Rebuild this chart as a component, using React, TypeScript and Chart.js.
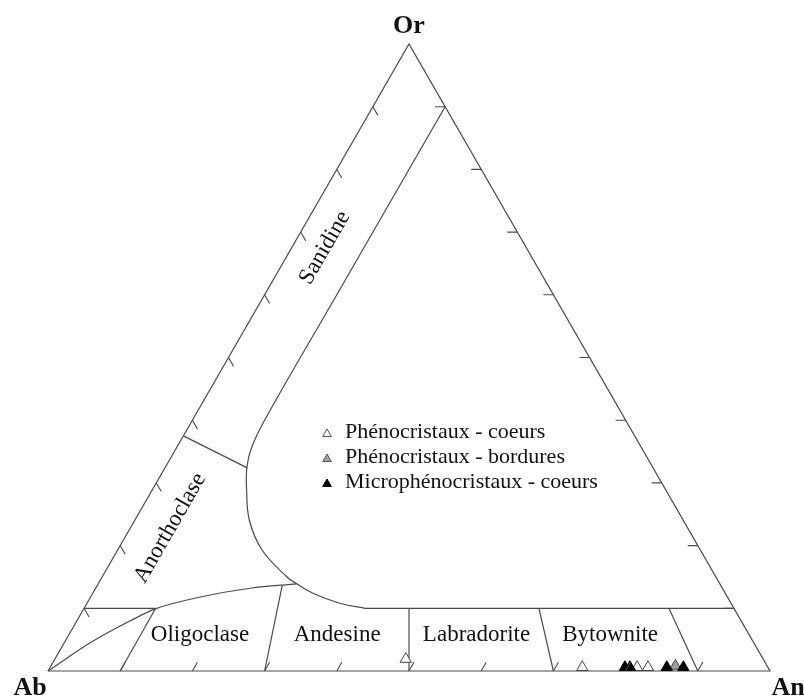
import React, { useEffect, useRef } from 'react';
import { Chart, registerables } from 'chart.js';

Chart.register(...registerables);

// ---- Data: compositions in An % and Or % (Ab = 100 - An - Or) ----
const phenoCoeursAn = [48.6, 73.7, 81.3, 82.8];
const phenoCoeursOr = [1.9, 0.6, 0.6, 0.6];
const phenoBorduresAn = [86.5];
const phenoBorduresOr = [0.8];
const microAn = [79.6, 80.3, 85.4, 87.7];
const microOr = [0.6, 0.6, 0.6, 0.6];

// ---- Field boundaries (An %, Or %) ----
const outlineAn = [0, 100, 0, 0];
const outlineOr = [0, 0, 100, 0];
const alkaliCurveAn = [10, 10, 10, 10.4, 11.3, 13, 15.9, 20, 25.6, 27.5, 30.5, 35, 38.9];
const alkaliCurveOr = [90, 60, 40, 35.5, 32.5, 29, 24, 19.3, 15, 13.9, 12.4, 10.8, 10];
const plagTopAn = [38.9, 90];
const plagTopOr = [10, 10];
const plagTopLeftAn = [0, 9.9];
const plagTopLeftOr = [10, 10];
const abCurveAn = [0, 3.6, 7.4, 9.9, 15.2, 21.4, 27.5];
const abCurveOr = [0, 4.5, 8.0, 9.9, 11.8, 13.2, 13.9];
const anorthoDividerAn = [0, 11.4];
const anorthoDividerOr = [37.5, 32.4];
const div10An = [10, 9.9];
const div10Or = [0, 9.9];
const div30An = [30, 25.6];
const div30Or = [0, 13.7];
const div50An = [50, 45];
const div50Or = [0, 10];
const div70An = [70, 63];
const div70Or = [0, 10];
const div90An = [90, 81];
const div90Or = [0, 10];

const tickValues = [10, 20, 30, 40, 50, 60, 70, 80, 90];

const legendLabels = [
  'Phénocristaux - coeurs',
  'Phénocristaux - bordures',
  'Microphénocristaux - coeurs',
];

const fieldLabels = ['Oligoclase', 'Andesine', 'Labradorite', 'Bytownite'];
const fieldLabelAn = [18.2, 37.2, 56.5, 75.0];
const fieldLabelOr = [5.7, 5.7, 5.7, 5.7];

const toXY = (an: number[], or: number[]) =>
  an.map((a, i) => ({ x: (a + or[i] / 2) / 100, y: or[i] / 100 }));

const LINE = '#4a4a4a';

function lineDs(an: number[], or: number[], tension = 0, monotone = false) {
  return {
    data: toXY(an, or),
    showLine: true,
    borderColor: LINE,
    borderWidth: 1.2,
    pointRadius: 0,
    fill: false,
    tension,
    cubicInterpolationMode: monotone ? 'monotone' : 'default',
    order: 10,
  };
}

const overlayPlugin = {
  id: 'ternaryOverlay',
  afterDatasetsDraw(chart: any) {
    const ctx = chart.ctx as CanvasRenderingContext2D;
    const xs = chart.scales.x;
    const ys = chart.scales.y;
    const P = (an: number, or: number) => [
      xs.getPixelForValue((an + or / 2) / 100),
      ys.getPixelForValue(or / 100),
    ];
    const pAb = P(0, 0);
    const pAn = P(100, 0);
    const pOr = P(0, 100);
    const ang = Math.atan2(pAb[1] - pOr[1], pOr[0] - pAb[0]);
    const L = 10;
    ctx.save();
    ctx.strokeStyle = LINE;
    ctx.lineWidth = 1.1;
    ctx.beginPath();
    tickValues.forEach((v) => {
      // base ticks (parallel to Ab-Or edge)
      let p = P(v, 0);
      ctx.moveTo(p[0], p[1]);
      ctx.lineTo(p[0] + L * Math.cos(ang), p[1] - L * Math.sin(ang));
      // left edge ticks (parallel to Or-An edge)
      p = P(0, v);
      ctx.moveTo(p[0], p[1]);
      ctx.lineTo(p[0] + L * Math.cos(ang), p[1] + L * Math.sin(ang));
      // right edge ticks (parallel to base)
      p = P(100 - v, v);
      ctx.moveTo(p[0], p[1]);
      ctx.lineTo(p[0] - L, p[1]);
    });
    ctx.stroke();

    // corner labels
    ctx.fillStyle = '#111';
    ctx.font = 'bold 26px "Liberation Serif"';
    ctx.textAlign = 'center';
    ctx.textBaseline = 'alphabetic';
    ctx.fillText('Or', pOr[0], pOr[1] - 11);
    ctx.fillText('Ab', pAb[0] - 18, pAb[1] + 24);
    ctx.fillText('An', pAn[0] + 18, pAn[1] + 24);

    // field labels
    ctx.font = '23px "Liberation Serif"';
    ctx.textBaseline = 'middle';
    fieldLabels.forEach((t, i) => {
      const p = P(fieldLabelAn[i], fieldLabelOr[i]);
      ctx.fillText(t, p[0], p[1]);
    });
    const rot = (t: string, an: number, or: number) => {
      const p = P(an, or);
      ctx.save();
      ctx.translate(p[0], p[1]);
      ctx.rotate(-ang);
      ctx.fillText(t, 0, 0);
      ctx.restore();
    };
    rot('Sanidine', 4.6, 67.5);
    rot('Anorthoclase', 5.5, 22.8);

    // legend
    const lx = 327;
    const rows = [434, 459, 484];
    const fills = ['#ffffff', '#a0a0a0', '#000000'];
    const strokes = ['#555555', '#555555', '#000000'];
    ctx.font = '22px "Liberation Serif"';
    ctx.textAlign = 'left';
    rows.forEach((ry, i) => {
      const r = 5;
      ctx.beginPath();
      ctx.moveTo(lx, ry - r);
      ctx.lineTo(lx + r * 0.866, ry + r * 0.5);
      ctx.lineTo(lx - r * 0.866, ry + r * 0.5);
      ctx.closePath();
      ctx.fillStyle = fills[i];
      ctx.fill();
      ctx.strokeStyle = strokes[i];
      ctx.lineWidth = 1;
      ctx.stroke();
      ctx.fillStyle = '#111';
      ctx.fillText(legendLabels[i], 345, ry - 2);
    });
    ctx.restore();
  },
};

export default function App() {
  const ref = useRef<HTMLCanvasElement>(null);
  useEffect(() => {
    document.body.style.margin = '0';
    const markerBase = {
      pointStyle: 'triangle',
      pointRadius: 6.5,
      pointBorderWidth: 1,
      showLine: false,
    };
    const chart = new Chart(ref.current as HTMLCanvasElement, {
      type: 'scatter',
      data: {
        datasets: [
          {
            ...markerBase,
            label: legendLabels[2],
            data: toXY(microAn, microOr),
            pointBackgroundColor: '#000',
            pointBorderColor: '#000',
            order: 1,
          },
          {
            ...markerBase,
            label: legendLabels[1],
            data: toXY(phenoBorduresAn, phenoBorduresOr),
            pointBackgroundColor: '#a0a0a0',
            pointBorderColor: '#444',
            order: 2,
          },
          {
            ...markerBase,
            label: legendLabels[0],
            data: toXY(phenoCoeursAn, phenoCoeursOr),
            pointBackgroundColor: '#fff',
            pointBorderColor: '#444',
            order: 3,
          },
          lineDs(outlineAn, outlineOr),
          lineDs(alkaliCurveAn, alkaliCurveOr, 0.4),
          lineDs(plagTopAn, plagTopOr),
          lineDs(plagTopLeftAn, plagTopLeftOr),
          lineDs(abCurveAn, abCurveOr, 0.4, true),
          lineDs(anorthoDividerAn, anorthoDividerOr),
          lineDs(div10An, div10Or),
          lineDs(div30An, div30Or),
          lineDs(div50An, div50Or),
          lineDs(div70An, div70Or),
          lineDs(div90An, div90Or),
        ] as any,
      },
      options: {
        responsive: false,
        animation: false,
        events: [],
        layout: { padding: 0, autoPadding: false },
        plugins: {
          legend: { display: false },
          title: { display: false },
          tooltip: { enabled: false },
        },
        scales: {
          x: { type: 'linear', display: false, min: -48 / 722, max: -48 / 722 + 804 / 722 },
          y: { type: 'linear', display: false, min: 44 / 627 + 1 - 696 / 627, max: 44 / 627 + 1 },
        },
      } as any,
      plugins: [overlayPlugin],
    });
    return () => chart.destroy();
  }, []);
  return (
    <div style={{ position: 'absolute', left: 0, top: 0, width: 804, height: 696, background: '#fff' }}>
      <canvas ref={ref} width={804} height={696} style={{ display: 'block' }} />
    </div>
  );
}
